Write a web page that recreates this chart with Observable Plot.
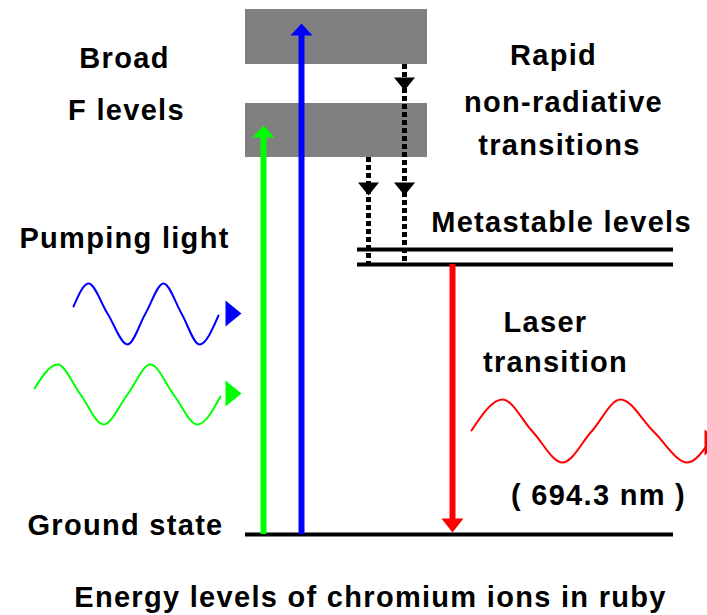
<!DOCTYPE html>
<html>
<head>
<meta charset="utf-8">
<script src="https://cdn.jsdelivr.net/npm/d3@7"></script>
<script src="https://cdn.jsdelivr.net/npm/@observablehq/plot@0.6"></script>
<style>
  body { margin: 0; background: #fff; }
  #chart svg text { letter-spacing: 1.3px; }
</style>
</head>
<body>
<div id="chart"></div>
<script>
// ---------- Data (diagram coordinates; y grows downward) ----------
// Broad F bands
const bandNames  = ["Broad F level (upper)", "Broad F level (lower)"];
const bandLeft   = [245, 245];
const bandRight  = [427, 427];
const bandTop    = [9, 103];
const bandBottom = [64, 157];

// Sharp levels
const levelNames = ["Metastable (upper)", "Metastable (lower)", "Ground state"];
const levelY     = [249, 264, 534];
const levelX1    = [357, 357, 245];
const levelX2    = [673, 673, 673];

// Pumping transitions (upwards)
const pumpNames = ["green pump", "blue pump"];
const pumpX     = [263, 301];
const pumpFrom  = [534, 534];
const pumpTo    = [125, 23];
const pumpColor = ["#00ff00", "#0000ff"];

// Laser transition (downwards)
const laserX = 452, laserFrom = 264, laserTo = 532;

// Non-radiative decays (dotted)
const dropX     = [404, 368];
const dropFrom  = [64, 157];
const dropTo    = [263, 263];
const dropHeads = [[90, 195], [195]];

// Light waves: points (start, extrema, crossings, end)
const blueWaveX  = [73, 88, 107, 127, 145, 163, 181, 199, 218];
const blueWaveY  = [306, 283, 313, 344, 313, 283, 313, 344, 315];
const greenWaveX = [34, 57, 80, 103, 127, 150, 173, 197, 220];
const greenWaveY = [388, 364, 394, 424, 394, 364, 394, 424, 396];
const redWaveX   = [471, 502, 532, 562, 591, 620, 653, 687, 708];
const redWaveY   = [430, 399, 431, 462, 431, 399, 431, 462, 443];

// Wave direction markers (right-pointing triangles): left edge x, centre y
const waveHeadX = [225, 225, 704];
const waveHeadY = [313, 393, 442];
const waveHeadColor = ["#0000ff", "#00ff00", "#ff0000"];

// Labels
const labelText = ["Broad", "F levels", "Pumping light", "Ground state",
                   "Rapid", "non-radiative", "transitions", "Metastable levels",
                   "Laser", "transition", "( 694.3 nm )",
                   "Energy levels of chromium ions in ruby"];
const labelX = [124, 126, 124, 125, 553, 563, 559, 561, 545, 555, 598, 370];
const labelY = [58, 110, 238, 525, 55, 102, 145, 222, 322, 362, 495, 597];

// ---------- Build tables ----------
const bands = bandNames.map((n, i) => ({n, x1: bandLeft[i], x2: bandRight[i], y1: bandTop[i], y2: bandBottom[i]}));
const levels = levelNames.map((n, i) => ({n, y: levelY[i], x1: levelX1[i], x2: levelX2[i]}));
const pumps = pumpNames.map((n, i) => ({n, x: pumpX[i], y1: pumpFrom[i], y2: pumpTo[i], c: pumpColor[i]}));
const drops = dropX.map((x, i) => ({x, y1: dropFrom[i], y2: dropTo[i]}));
const labels = labelText.map((t, i) => ({t, x: labelX[i], y: labelY[i]}));

const waves = [];
blueWaveX.forEach((x, i) => waves.push({id: "b", x, y: blueWaveY[i], c: "#0000ff"}));
greenWaveX.forEach((x, i) => waves.push({id: "g", x, y: greenWaveY[i], c: "#00ff00"}));
redWaveX.forEach((x, i) => waves.push({id: "r", x, y: redWaveY[i], c: "#ff0000"}));

// arrowhead polygons
const polys = [];
let pid = 0;
function head(x, tipY, dir, w, l, c) { // dir: -1 up, +1 down
  const id = pid++;
  polys.push({id, x: x - w / 2, y: tipY - dir * l, c});
  polys.push({id, x: x + w / 2, y: tipY - dir * l, c});
  polys.push({id, x: x, y: tipY, c});
}
pumps.forEach(p => head(p.x, p.y2, -1, 22, 12, p.c));
head(laserX, laserTo, 1, 22, 14, "#ff0000");
dropX.forEach((x, i) => dropHeads[i].forEach(hy => head(x, hy, 1, 21, 13, "#000000")));
waveHeadX.forEach((x, i) => {
  const id = pid++;
  const cy = waveHeadY[i], c = waveHeadColor[i];
  polys.push({id, x, y: cy - 13, c});
  polys.push({id, x: x + 16, y: cy, c});
  polys.push({id, x, y: cy + 13, c});
});

const W = 707, H = 615;
const chart = Plot.plot({
  width: W, height: H, margin: 0,
  x: {domain: [0, W], range: [0, W], axis: null},
  y: {domain: [0, H], range: [0, H], axis: null},
  color: {type: "identity"},
  style: {background: "#ffffff", overflow: "hidden"},
  marks: [
    Plot.rect(bands, {x1: "x1", x2: "x2", y1: "y1", y2: "y2", fill: "#808080"}),
    Plot.ruleX(drops, {x: "x", y1: "y1", y2: "y2", stroke: "#000", strokeWidth: 5, strokeDasharray: "5,3"}),
    Plot.ruleY(levels, {y: "y", x1: "x1", x2: "x2", stroke: "#000", strokeWidth: 4}),
    Plot.ruleX(pumps, {x: "x", y1: "y1", y2: d => d.y2 + 10, stroke: "c", strokeWidth: 6}),
    Plot.ruleX([laserX], {x: d => d, y1: laserFrom, y2: laserTo - 12, stroke: "#ff0000", strokeWidth: 6}),
    Plot.line(polys, {x: "x", y: "y", z: "id", fill: "c", stroke: "none"}),
    Plot.line(waves, {x: "x", y: "y", z: "id", stroke: "c", strokeWidth: 2, curve: "monotone-x"}),
    Plot.text(labels, {x: "x", y: "y", text: "t", fill: "#000", fontSize: 29, fontWeight: "bold",
      fontFamily: "'Liberation Sans', Arial, Helvetica, sans-serif", textAnchor: "middle"})
  ]
});
document.getElementById("chart").appendChild(chart);
</script>
</body>
</html>
